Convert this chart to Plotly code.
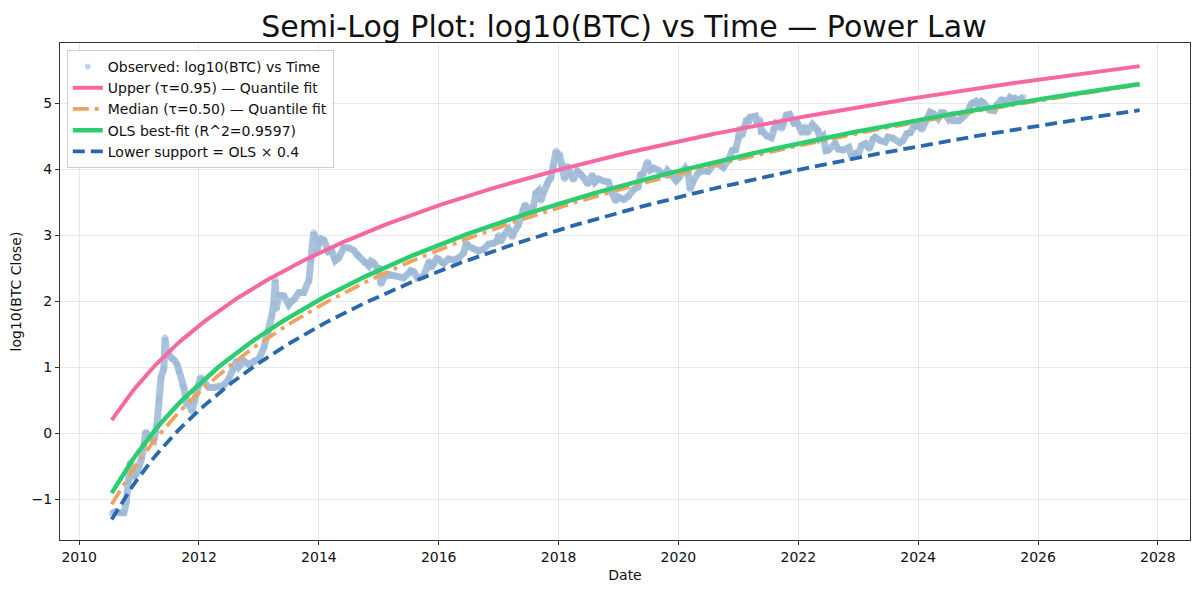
import numpy as np
import pandas as pd
import plotly.graph_objects as go

# ---- Observed data (approximate BTC close, USD) ----
obs_dates = [
    "2010-07-18", "2010-08-01", "2010-08-15", "2010-09-01", "2010-09-15", "2010-10-01", "2010-10-15",
    "2010-11-01", "2010-11-08", "2010-11-20", "2010-12-01", "2010-12-15",
    "2011-01-01", "2011-01-15", "2011-02-01", "2011-02-10", "2011-03-01", "2011-03-20", "2011-04-01",
    "2011-04-20", "2011-05-01", "2011-05-15", "2011-06-01", "2011-06-08", "2011-06-20", "2011-07-01",
    "2011-07-20", "2011-08-01", "2011-08-20", "2011-09-01", "2011-09-20", "2011-10-01", "2011-10-20",
    "2011-11-01", "2011-11-18", "2011-12-01", "2011-12-20",
    "2012-01-01", "2012-01-10", "2012-02-01", "2012-03-01", "2012-04-01", "2012-05-01", "2012-06-01",
    "2012-07-01", "2012-08-01", "2012-08-17", "2012-09-01", "2012-10-01", "2012-11-01", "2012-12-01",
    "2013-01-01", "2013-02-01", "2013-03-01", "2013-03-20", "2013-04-01", "2013-04-10", "2013-04-16",
    "2013-05-01", "2013-06-01", "2013-07-01", "2013-07-15", "2013-08-01", "2013-09-01", "2013-10-01",
    "2013-11-01", "2013-11-15", "2013-11-30", "2013-12-10", "2013-12-18", "2014-01-01", "2014-01-15",
    "2014-02-01", "2014-02-20", "2014-03-01", "2014-03-20", "2014-04-01", "2014-04-11", "2014-05-01",
    "2014-06-01", "2014-07-01", "2014-08-01", "2014-08-20", "2014-09-01", "2014-10-01", "2014-10-15",
    "2014-11-01", "2014-11-15", "2014-12-01", "2014-12-20",
    "2015-01-01", "2015-01-14", "2015-02-01", "2015-03-01", "2015-04-01", "2015-05-01", "2015-06-01",
    "2015-07-01", "2015-07-15", "2015-08-01", "2015-08-25", "2015-09-15", "2015-10-01", "2015-11-04",
    "2015-11-15", "2015-12-01", "2015-12-20",
    "2016-01-01", "2016-01-20", "2016-02-01", "2016-03-01", "2016-04-01", "2016-05-01", "2016-06-01",
    "2016-06-17", "2016-07-01", "2016-08-01", "2016-09-01", "2016-10-01", "2016-11-01", "2016-12-01",
    "2016-12-20",
    "2017-01-01", "2017-01-12", "2017-02-01", "2017-03-01", "2017-03-25", "2017-04-01", "2017-05-01",
    "2017-05-25", "2017-06-10", "2017-07-01", "2017-07-16", "2017-08-01", "2017-08-15", "2017-09-01",
    "2017-09-15", "2017-10-01", "2017-10-20", "2017-11-01", "2017-11-15", "2017-12-01", "2017-12-17",
    "2017-12-28",
    "2018-01-06", "2018-01-20", "2018-02-06", "2018-02-20", "2018-03-01", "2018-03-15", "2018-04-01",
    "2018-04-25", "2018-05-15", "2018-06-01", "2018-06-28", "2018-07-25", "2018-08-10", "2018-09-01",
    "2018-10-01", "2018-11-01", "2018-11-20", "2018-12-15", "2018-12-28",
    "2019-01-15", "2019-02-01", "2019-03-01", "2019-04-05", "2019-05-01", "2019-05-15", "2019-06-01",
    "2019-06-26", "2019-07-15", "2019-08-01", "2019-09-01", "2019-09-26", "2019-10-15", "2019-10-26",
    "2019-11-15", "2019-12-01", "2019-12-18",
    "2020-01-01", "2020-02-12", "2020-03-01", "2020-03-12", "2020-04-01", "2020-05-01", "2020-06-01",
    "2020-07-01", "2020-08-01", "2020-09-01", "2020-10-01", "2020-11-01", "2020-11-25", "2020-12-15",
    "2021-01-01", "2021-01-08", "2021-01-22", "2021-02-08", "2021-02-21", "2021-03-01", "2021-03-13",
    "2021-04-14", "2021-04-25", "2021-05-10", "2021-05-20", "2021-06-01", "2021-06-22", "2021-07-20",
    "2021-08-01", "2021-08-20", "2021-09-07", "2021-09-21", "2021-10-01", "2021-10-20", "2021-11-09",
    "2021-11-25", "2021-12-05", "2021-12-25",
    "2022-01-01", "2022-01-24", "2022-02-10", "2022-02-24", "2022-03-28", "2022-04-15", "2022-05-01",
    "2022-05-12", "2022-06-01", "2022-06-18", "2022-07-01", "2022-08-14", "2022-09-01", "2022-10-01",
    "2022-11-05", "2022-11-21", "2022-12-15",
    "2023-01-01", "2023-01-20", "2023-02-15", "2023-03-10", "2023-04-01", "2023-04-14", "2023-05-15",
    "2023-06-15", "2023-07-01", "2023-08-01", "2023-09-11", "2023-10-01", "2023-10-25", "2023-11-15",
    "2023-12-05", "2023-12-25",
    "2024-01-10", "2024-01-23", "2024-02-15", "2024-03-01", "2024-03-14", "2024-04-01", "2024-05-01",
    "2024-05-20", "2024-06-07", "2024-07-05", "2024-07-28", "2024-08-05", "2024-09-06", "2024-10-01",
    "2024-10-29", "2024-11-12", "2024-11-22", "2024-12-17", "2024-12-30",
    "2025-01-20", "2025-02-01", "2025-02-28", "2025-03-10", "2025-04-08", "2025-04-25", "2025-05-22",
    "2025-06-10", "2025-06-22", "2025-07-14", "2025-08-02", "2025-08-14", "2025-09-01", "2025-09-18",
    "2025-10-05",
]
obs_close = [
    0.06, 0.065, 0.065, 0.062, 0.062, 0.062, 0.09,
    0.19, 0.36, 0.28, 0.21, 0.24,
    0.30, 0.40, 0.70, 1.05, 0.90, 0.78, 0.78,
    1.35, 3.2, 7.0, 9.5, 28.0, 15.0, 15.5,
    13.5, 13.0, 11.0, 8.5, 5.2, 5.0, 2.6,
    3.2, 2.1, 3.0, 3.9,
    5.2, 7.0, 5.9, 4.9, 4.9, 5.0, 5.3,
    6.6, 9.4, 12.5, 10.1, 12.4, 10.9, 12.5,
    13.5, 20.0, 34.0, 60.0, 93.0, 210.0, 75.0,
    125.0, 120.0, 88.0, 98.0, 105.0, 135.0, 135.0,
    205.0, 420.0, 1100.0, 900.0, 550.0, 760.0, 870.0,
    830.0, 560.0, 560.0, 580.0, 460.0, 410.0, 450.0,
    640.0, 640.0, 590.0, 510.0, 480.0, 390.0, 390.0,
    340.0, 400.0, 380.0, 320.0,
    315.0, 180.0, 225.0, 255.0, 245.0, 236.0, 225.0,
    262.0, 290.0, 280.0, 225.0, 230.0, 238.0, 405.0,
    320.0, 365.0, 445.0,
    430.0, 380.0, 372.0, 435.0, 418.0, 450.0, 535.0,
    760.0, 675.0, 620.0, 575.0, 615.0, 730.0, 750.0,
    800.0,
    1000.0, 790.0, 990.0, 1220.0, 930.0, 1080.0, 1420.0,
    2400.0, 2900.0, 2450.0, 1950.0, 2750.0, 4300.0, 4700.0,
    3300.0, 4400.0, 5900.0, 6700.0, 7300.0, 10900.0, 19100.0,
    15000.0,
    17000.0, 11500.0, 7000.0, 11200.0, 10400.0, 8200.0, 6900.0,
    9300.0, 8500.0, 7500.0, 5900.0, 8200.0, 6300.0, 7100.0,
    6600.0, 6350.0, 4400.0, 3250.0, 3800.0,
    3600.0, 3450.0, 3850.0, 4950.0, 5350.0, 8200.0, 8550.0,
    12900.0, 9700.0, 10400.0, 9600.0, 8400.0, 8300.0, 9500.0,
    8500.0, 7400.0, 6650.0,
    7200.0, 10300.0, 8600.0, 4900.0, 6600.0, 8800.0, 9450.0,
    9200.0, 11800.0, 11900.0, 10600.0, 13800.0, 19200.0, 19400.0,
    29400.0, 41000.0, 32000.0, 46000.0, 57500.0, 49600.0, 61000.0,
    63500.0, 49000.0, 56700.0, 37000.0, 36700.0, 31700.0, 29800.0,
    40000.0, 49300.0, 46800.0, 40700.0, 48000.0, 65900.0, 67500.0,
    57000.0, 49400.0, 50800.0,
    47700.0, 35000.0, 44500.0, 35000.0, 47500.0, 40500.0, 38500.0,
    28900.0, 31800.0, 19000.0, 19300.0, 24300.0, 20000.0, 19400.0,
    21300.0, 15800.0, 17400.0,
    16600.0, 22700.0, 24300.0, 20200.0, 28500.0, 30500.0, 27000.0,
    25600.0, 30600.0, 29200.0, 25100.0, 27000.0, 34500.0, 35600.0,
    44000.0, 43600.0,
    46000.0, 39500.0, 51800.0, 62400.0, 73100.0, 69700.0, 58300.0,
    71400.0, 71000.0, 56700.0, 68200.0, 54000.0, 53900.0, 60800.0,
    72700.0, 88700.0, 98900.0, 106000.0, 92600.0,
    106000.0, 102000.0, 84400.0, 78500.0, 76300.0, 94600.0, 111700.0,
    110300.0, 101000.0, 122000.0, 113000.0, 118300.0, 109200.0, 117000.0,
    123500.0,
]

# ---- Power-law fit parameters: log10(price) = a + b * log10(days since genesis) ----
genesis = "2009-01-03"
fit_start = "2010-07-18"
fit_end = "2027-09-12"
upper_a, upper_b = -13.386, 4.941     # quantile tau=0.95
median_a, median_b = -17.189, 5.860   # quantile tau=0.50
ols_a, ols_b = -16.615, 5.713         # OLS best fit
lower_factor = 0.4                    # lower support = OLS x 0.4

obs_x = pd.to_datetime(obs_dates)
obs_y = np.log10(np.array(obs_close))

fit_x = pd.date_range(fit_start, fit_end, periods=300)
fit_days = np.asarray((fit_x - pd.Timestamp(genesis)).days, dtype=float)
logd = np.log10(fit_days)
upper_y = upper_a + upper_b * logd
median_y = median_a + median_b * logd
ols_y = ols_a + ols_b * logd
lower_y = ols_y + np.log10(lower_factor)

obs_color = "rgba(155,183,214,0.85)"
FONT = "DejaVu Sans"
FS = 14

fig = go.Figure()
fig.add_trace(go.Scatter(x=obs_x, y=obs_y, mode="lines", line=dict(color=obs_color, width=7),
                         showlegend=False, hoverinfo="skip"))
fig.add_trace(go.Scatter(x=obs_x, y=obs_y, mode="markers",
                         marker=dict(color="rgba(155,183,214,0.6)", size=6),
                         name="Observed: log10(BTC) vs Time"))
fig.add_trace(go.Scatter(x=fit_x, y=upper_y, mode="lines", line=dict(color="#f768a1", width=4),
                         name="Upper (τ=0.95) — Quantile fit"))
fig.add_trace(go.Scatter(x=fit_x, y=median_y, mode="lines",
                         line=dict(color="#f0a35e", width=3.8, dash="16px,6px,4px,6px"),
                         name="Median (τ=0.50) — Quantile fit"))
fig.add_trace(go.Scatter(x=fit_x, y=ols_y, mode="lines", line=dict(color="#2ecc71", width=4.5),
                         name="OLS best-fit (R^2=0.9597)"))
fig.add_trace(go.Scatter(x=fit_x, y=lower_y, mode="lines",
                         line=dict(color="#2a68ae", width=3.8, dash="12px,6px"),
                         name="Lower support = OLS × 0.4"))

axis_common = dict(showline=True, linecolor="#333333", linewidth=1.3, mirror=True,
                   ticks="outside", ticklen=4, tickcolor="#333333", automargin=False,
                   showgrid=True, gridcolor="rgba(0,0,0,0.09)", gridwidth=1, zeroline=False,
                   tickfont=dict(family=FONT, size=FS, color="#111111"))

# page body has an 8px margin, so the figure is sized/positioned to compensate
fig.update_layout(
    width=1192, height=586,
    paper_bgcolor="white", plot_bgcolor="white",
    margin=dict(l=52, r=10, t=35, b=54, autoexpand=False),
    title=dict(text="Semi-Log Plot: log10(BTC) vs Time — Power Law",
               font=dict(family=FONT, size=30, color="#111111"),
               x=0.5168, xanchor="center", y=0.969, yanchor="middle",
               automargin=False),
    font=dict(family=FONT, color="#111111"),
    legend=dict(x=0.006, y=0.986, xanchor="left", yanchor="top",
                bgcolor="rgba(255,255,255,0.85)", bordercolor="#cccccc", borderwidth=1,
                font=dict(family=FONT, size=FS, color="#111111"),
                itemwidth=30, tracegroupgap=0),
    xaxis=dict(type="date", range=["2009-09-06", "2028-07-15"],
               tickvals=[f"{y}-01-01" for y in range(2010, 2029, 2)],
               ticktext=[str(y) for y in range(2010, 2029, 2)],
               title=dict(text="Date", font=dict(family=FONT, size=FS), standoff=6),
               **axis_common),
    yaxis=dict(range=[-1.62, 5.91], dtick=1, tick0=0,
               title=dict(text="log10(BTC Close)", font=dict(family=FONT, size=FS), standoff=8),
               **axis_common),
)

fig.write_html("out.html")
